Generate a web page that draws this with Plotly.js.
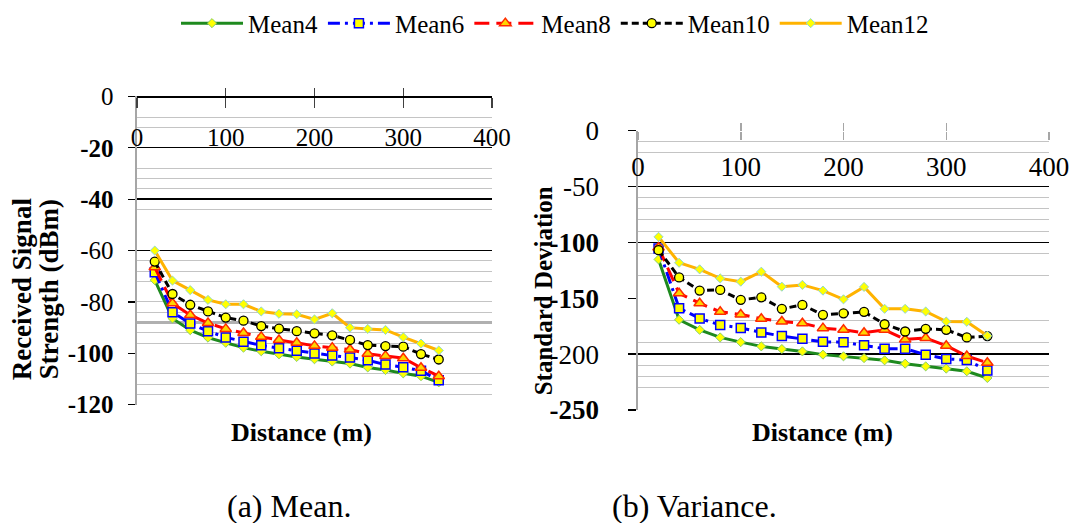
<!DOCTYPE html>
<html>
<head>
<meta charset="utf-8">
<script src="https://cdn.plot.ly/plotly-3.0.1.min.js"></script>
<style>
  html, body { margin: 0; padding: 0; background: #ffffff; }
  #chart { width: 1074px; height: 523px; }
</style>
</head>
<body>
<div id="chart"></div>
<script>
// Distance from the transmitter (m)
const distance = [20, 40, 60, 80, 100, 120, 140, 160, 180, 200, 220, 240, 260, 280, 300, 320, 340];

// (a) Mean received signal strength (dBm)
const rssMean4  = [-71.5, -86.4, -91.0, -93.9, -95.9, -97.8, -99.2, -100.4, -101.4, -102.3, -103.2, -104.0, -105.5, -106.5, -107.8, -108.9, -111.3];
const rssMean6  = [-68.4, -84.0, -88.4, -91.4, -93.8, -95.5, -96.9, -98.0, -99.0, -100.1, -100.9, -101.6, -102.7, -104.4, -105.4, -106.8, -110.5];
const rssMean8  = [-66.5, -80.5, -85.1, -88.2, -90.5, -92.1, -93.6, -94.8, -95.9, -97.1, -97.8, -98.5, -100.2, -101.0, -101.9, -105.6, -108.9];
const rssMean10 = [-64.3, -76.9, -81.1, -83.7, -86.1, -87.3, -89.4, -90.4, -91.4, -92.2, -93.0, -94.8, -96.8, -97.2, -97.4, -100.3, -102.4];
const rssMean12 = [-60.0, -71.7, -75.4, -79.2, -80.9, -80.9, -83.7, -84.6, -84.8, -86.8, -84.4, -90.0, -90.5, -90.9, -93.7, -96.2, -98.9];

// (b) Standard deviation
const sdMean4  = [-115.3, -169.3, -178.3, -185.1, -189.3, -193.1, -195.5, -197.6, -200.5, -202.0, -203.6, -205.6, -208.6, -211.0, -213.0, -215.4, -221.4];
const sdMean6  = [-105.5, -158.9, -168.1, -174.0, -176.6, -180.6, -183.9, -186.3, -189.0, -189.4, -192.0, -195.2, -195.2, -200.6, -204.3, -205.4, -214.6];
const sdMean8  = [-104.6, -145.6, -154.5, -162.2, -164.6, -168.4, -170.9, -172.4, -176.8, -178.3, -180.9, -178.3, -186.9, -185.7, -192.5, -201.8, -207.7];
const sdMean10 = [-107.0, -131.4, -143.2, -142.6, -151.5, -149.2, -159.5, -156.0, -164.9, -163.5, -162.2, -173.3, -179.8, -177.4, -178.3, -185.1, -183.9];
const sdMean12 = [-95.1, -118.3, -124.2, -132.3, -135.2, -126.3, -139.7, -138.1, -143.2, -151.0, -139.9, -159.5, -159.5, -161.9, -170.9, -171.1, -183.6];

const seriesNames = ['Mean4', 'Mean6', 'Mean8', 'Mean10', 'Mean12'];

// Axis ticks
const xTickVals = [0, 100, 200, 300, 400];
const xTickText = ['0', '100', '200', '300', '400'];
const rssTickVals = [0, -20, -40, -60, -80, -100, -120];
const rssTickText = ['0', '<b>-20</b>', '<b>-40</b>', '-60', '-80', '<b>-100</b>', '<b>-120</b>'];
const sdTickVals = [0, -50, -100, -150, -200, -250];
const sdTickText = ['0', '-50', '<b>-100</b>', '<b>-150</b>', '-200', '<b>-250</b>'];

// Horizontal rules of each panel
const rssDarkRules = [-20, -60];
const rssHeavyRules = [-40];
const rssLightRules = [-8, -12, -28, -32, -36, -44, -64, -68, -72, -80, -84, -92, -96, -108, -112, -116];
const rssMidRules = [-88];
const sdDarkRules = [-50, -100, -200];
const sdLightRules = [-10, -20, -60, -70, -80, -90, -110, -130, -170, -190, -210, -220, -230];

// Captions and titles
const panelCaptions = ['(a) Mean.', '(b) Variance.'];
const xTitle = 'Distance (m)';
const rssTitleLines = ['Received Signal', 'Strength (dBm)'];
const sdTitle = 'Standard Deviation';

const W = 1074, H = 523;
const FONT = 'Liberation Serif, Times New Roman, serif';
const px = v => v / W;
const py = v => (H - v) / H;

const styles = [
  { color: '#1e8a1e', dash: 'solid', symbol: 'diamond', size: 7, mcolor: '#ffff00', mline: '#86cf6a', mw: 1 },
  { color: '#0000ff', dash: '12px,5px,3px,5px', symbol: 'square', size: 9, mcolor: '#ffff00', mline: '#0000ff', mw: 1.5 },
  { color: '#ff0000', dash: '15px,7px', symbol: 'triangle-up', size: 10, mcolor: '#ffd400', mline: '#ff2a00', mw: 1.5 },
  { color: '#000000', dash: '7px,4px', symbol: 'circle', size: 9, mcolor: '#ffff00', mline: '#000000', mw: 1.3 },
  { color: '#ffb300', dash: 'solid', symbol: 'diamond', size: 7, mcolor: '#ffff00', mline: '#8fd6d0', mw: 1 }
];

const rssSeries = [rssMean4, rssMean6, rssMean8, rssMean10, rssMean12];
const sdSeries = [sdMean4, sdMean6, sdMean8, sdMean10, sdMean12];

const traces = [];

// Helper traces that bind the overlay axes to the subplots
const helperAxes = [['x3', 'y'], ['x', 'y3'], ['x', 'y5'], ['x', 'y7'], ['x4', 'y2'], ['x2', 'y4']];
helperAxes.forEach(([xa, ya]) => {
  traces.push({ x: [null], y: [null], xaxis: xa, yaxis: ya, type: 'scatter', mode: 'lines',
    showlegend: false, hoverinfo: 'skip' });
});

function addSeries(values, i, xa, ya, legend) {
  const s = styles[i];
  traces.push({
    type: 'scatter', mode: 'lines+markers',
    x: distance, y: values, xaxis: xa, yaxis: ya,
    name: seriesNames[i], legendgroup: seriesNames[i], showlegend: legend,
    line: { color: s.color, width: 3, dash: s.dash },
    marker: { symbol: s.symbol, size: s.size, color: s.mcolor, line: { color: s.mline, width: s.mw } }
  });
}
rssSeries.forEach((v, i) => addSeries(v, i, 'x', 'y', true));
sdSeries.forEach((v, i) => addSeries(v, i, 'x2', 'y2', false));

// Panel geometry
const L = { x0: 137, x1: 492, y0: 94, y1: 404 };
const R = { x0: 638, x1: 1049, y0: 128.3, y1: 409.3 };

function ruleAxis(base, anchor, range, vals, color, width) {
  return {
    overlaying: base, anchor: anchor, range: range, tickmode: 'array', tickvals: vals,
    showticklabels: false, ticks: '', showline: false, zeroline: false,
    showgrid: true, gridcolor: color, gridwidth: width
  };
}

function label(text, x, y, size, angle) {
  return { text: text, x: px(x), y: py(y), xref: 'paper', yref: 'paper',
    xanchor: 'center', yanchor: 'middle', showarrow: false, textangle: angle || 0,
    font: { size: size } };
}

const layout = {
  width: W, height: H,
  margin: { l: 0, r: 0, t: 0, b: 0, pad: 0 },
  paper_bgcolor: '#ffffff', plot_bgcolor: 'rgba(0,0,0,0)',
  font: { family: FONT, size: 25, color: '#000000' },
  showlegend: true,
  legend: {
    orientation: 'h', x: px(176), xanchor: 'left', y: 1.005, yanchor: 'top',
    font: { family: FONT, size: 25, color: '#000000' }, itemwidth: 62,
    bgcolor: 'rgba(0,0,0,0)', traceorder: 'normal'
  },
  hovermode: false,

  // (a) panel
  xaxis: {
    domain: [px(L.x0), px(L.x1)], range: [0, 400], anchor: 'free', position: py(L.y0), side: 'bottom',
    tickmode: 'array', tickvals: xTickVals, ticktext: xTickText,
    ticks: 'outside', ticklen: 10, tickwidth: 1.3, tickcolor: '#404040',
    showline: true, linecolor: '#000000', linewidth: 1.5,
    showgrid: false, zeroline: false, tickfont: { size: 25 }, ticklabelstandoff: 8
  },
  xaxis3: {
    overlaying: 'x', anchor: 'free', position: py(L.y0), side: 'bottom', range: [0, 400],
    tickmode: 'array', tickvals: xTickVals, ticks: 'inside', ticklen: 8, tickwidth: 1.3, tickcolor: '#404040',
    showticklabels: false, showline: false, showgrid: false, zeroline: false
  },
  yaxis: {
    domain: [py(L.y1), py(L.y0)], range: [-120, 0], anchor: 'x',
    tickmode: 'array', tickvals: rssTickVals, ticktext: rssTickText,
    ticks: 'outside', ticklen: 7, tickwidth: 1.3, tickcolor: '#000000',
    showline: true, linecolor: '#a6a6a6', linewidth: 2.5,
    showgrid: false, zeroline: false, tickfont: { size: 25 }, ticklabelstandoff: 9,
    minor: { tickmode: 'array', tickvals: rssLightRules, showgrid: true, gridcolor: '#c4c4c4', gridwidth: 1, ticks: '' }
  },
  yaxis3: ruleAxis('y', 'x', [-120, 0], rssDarkRules, '#000000', 1.2),
  yaxis5: ruleAxis('y', 'x', [-120, 0], rssHeavyRules, '#000000', 2.2),
  yaxis7: ruleAxis('y', 'x', [-120, 0], rssMidRules, '#b0b0b0', 2.2),

  // (b) panel
  xaxis2: {
    domain: [px(R.x0), px(R.x1)], range: [0, 400], anchor: 'free', position: py(R.y0), side: 'bottom',
    tickmode: 'array', tickvals: xTickVals, ticktext: xTickText,
    ticks: 'outside', ticklen: 8, tickwidth: 1.5, tickcolor: '#a6a6a6',
    showline: false, showgrid: false, zeroline: false, tickfont: { size: 27 }, ticklabelstandoff: 4
  },
  xaxis4: {
    overlaying: 'x2', anchor: 'free', position: py(R.y0), side: 'bottom', range: [0, 400],
    tickmode: 'array', tickvals: xTickVals, ticks: 'inside', ticklen: 8, tickwidth: 1.5, tickcolor: '#a6a6a6',
    showticklabels: false, showline: false, showgrid: false, zeroline: false
  },
  yaxis2: {
    domain: [py(R.y1), py(R.y0)], range: [-250, 0], anchor: 'x2',
    tickmode: 'array', tickvals: sdTickVals, ticktext: sdTickText,
    ticks: 'outside', ticklen: 8, tickwidth: 1.3, tickcolor: '#000000',
    showline: true, linecolor: '#a6a6a6', linewidth: 2.5,
    showgrid: false, zeroline: false, tickfont: { size: 27 }, ticklabelstandoff: 23,
    minor: { tickmode: 'array', tickvals: sdLightRules, showgrid: true, gridcolor: '#c4c4c4', gridwidth: 1, ticks: '' }
  },
  yaxis4: ruleAxis('y2', 'x2', [-250, 0], sdDarkRules, '#000000', 1.2),

  annotations: [
    label('<b>' + xTitle + '</b>', 301, 432, 26),
    label('<b>' + xTitle + '</b>', 822, 432, 26),
    label('<b>' + rssTitleLines[0] + '</b>', 22, 288, 27, -90),
    label('<b>' + rssTitleLines[1] + '</b>', 49, 288, 27, -90),
    label('<b>' + sdTitle + '</b>', 543, 290, 25, -90),
    label(panelCaptions[0], 289, 506, 32),
    label(panelCaptions[1], 694, 506, 32)
  ]
};

Plotly.newPlot('chart', traces, layout, { staticPlot: true, displayModeBar: false });
</script>
</body>
</html>
